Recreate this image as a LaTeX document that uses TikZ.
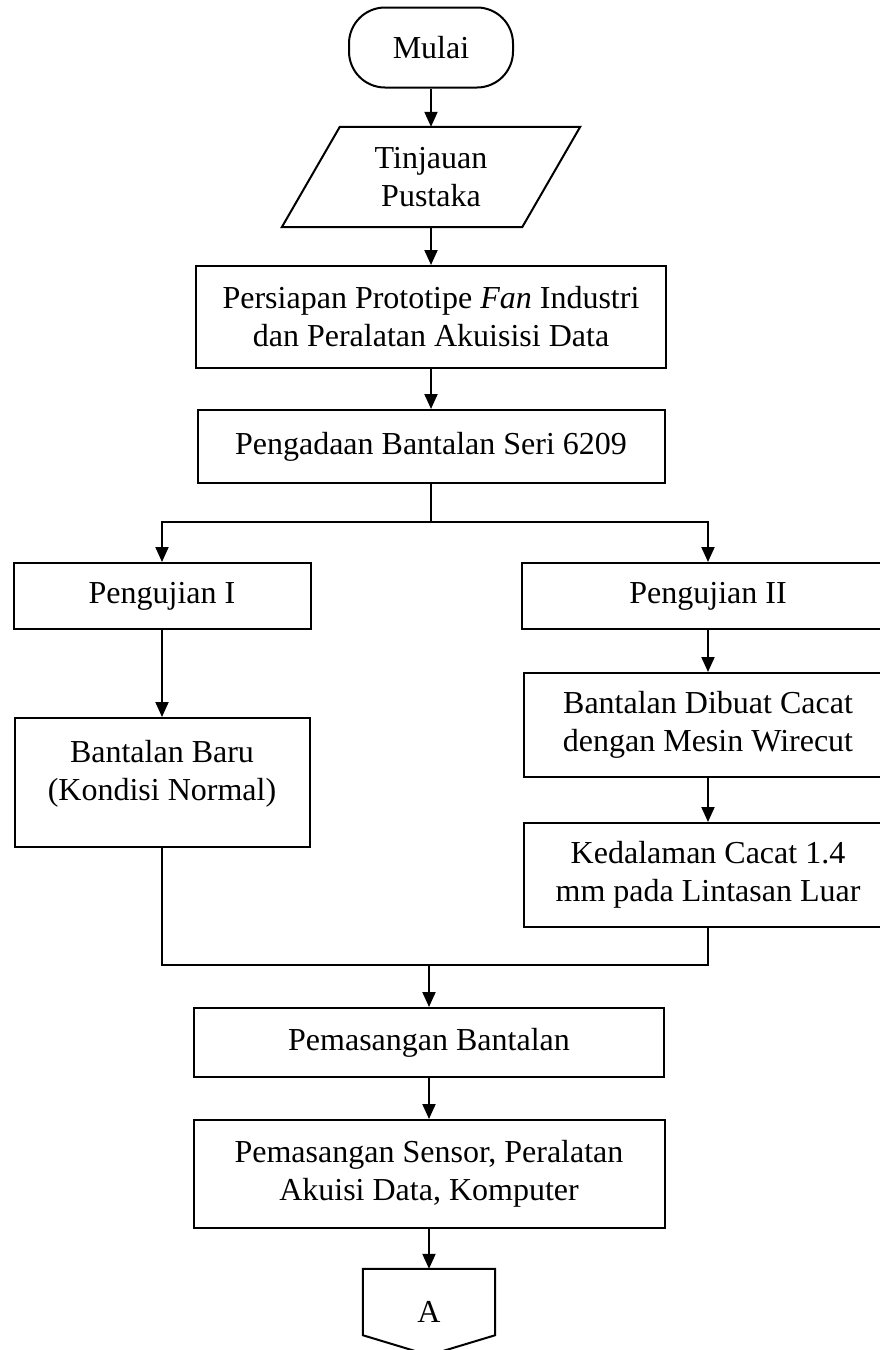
\documentclass[tikz,border=0pt]{standalone}
\usepackage{fontspec}
\setmainfont{Liberation Serif}
\usetikzlibrary{arrows.meta}

\begin{document}
\begin{tikzpicture}[
        x=1pt, y=-1pt,
        box/.style={
          draw,
          rectangle,
          line width=2pt,
          align=center,
          inner sep=0pt,
          font=\fontsize{32}{38}\selectfont
          },
        term/.style={
          box,
          rounded corners=36pt
          },
        plain/.style={
          draw=none,
          fill=none,
          align=center,
          inner sep=0pt,
          font=\fontsize{32}{38}\selectfont
          },
        flow/.style={
          line width=2pt
          },
        >={Triangle[length=15pt,width=13pt]}
        ]
        \useasboundingbox (0,0) rectangle (879,1350);
        % top part
        \node[term, minimum width=164pt, minimum height=80pt] (mulai) at (431,47.5) {Mulai};
        \node[plain, minimum width=240pt, minimum height=100pt] (tinjau) at (431,177) {Tinjauan\\Pustaka};
        \draw[flow] ([xshift=29pt]tinjau.north west) -- ([xshift=29pt]tinjau.north east)
          -- ([xshift=-29pt]tinjau.south east) -- ([xshift=-29pt]tinjau.south west) -- cycle;
        \node[box, minimum width=470pt, minimum height=102pt] (persiapan) at (431,317)
          {Persiapan Prototipe \textit{Fan} Industri\\dan Peralatan Akuisisi Data};
        \node[box, minimum width=467pt, minimum height=73pt] (pengadaan) at (431,446.5)
          {Pengadaan Bantalan Seri 6209};
        % two tests
        \node[box, minimum width=297pt, minimum height=66pt] (uji1) at (162,596) {Pengujian I};
        \node[box, minimum width=372pt, minimum height=66pt] (uji2) at (708,596) {Pengujian II};
        \node[box, minimum width=295pt, minimum height=129pt] (baru) at (162,782.5)
          {Bantalan Baru\\(Kondisi Normal)\\[-14pt]\mbox{}};
        \node[box, minimum width=368pt, minimum height=104pt] (cacat) at (708,725)
          {Bantalan Dibuat Cacat\\dengan Mesin Wirecut};
        \node[box, minimum width=368pt, minimum height=104pt] (dalam) at (708,875)
          {Kedalaman Cacat 1.4\\mm pada Lintasan Luar};
        % bottom part
        \node[box, minimum width=470pt, minimum height=69pt] (pasang) at (429,1042.5)
          {Pemasangan Bantalan};
        \node[box, minimum width=471pt, minimum height=108pt] (sensor) at (429,1174)
          {Pemasangan Sensor, Peralatan\\Akuisi Data, Komputer};
        \node[plain, minimum width=132pt, minimum height=86pt] (konA) at (429,1312) {A};
        \draw[flow] (konA.north west) -- (konA.north east) -- ([yshift=20pt]konA.south east)
          -- (konA.south) -- ([yshift=20pt]konA.south west) -- cycle;
        \coordinate (split) at (431,522);
        \coordinate (merge) at (429,965);
        % connectors
        \draw[flow,->] (mulai) -- (tinjau);
        \draw[flow,->] (tinjau) -- (persiapan);
        \draw[flow,->] (persiapan) -- (pengadaan);
        \draw[flow] (pengadaan.south) -- (split);
        \draw[flow,->] (split) -| (uji1.north);
        \draw[flow,->] (split) -| (uji2.north);
        \draw[flow,->] (uji1.south) -- (baru.north);
        \draw[flow,->] (uji2.south) -- (cacat.north);
        \draw[flow,->] (cacat.south) -- (dalam.north);
        \draw[flow] (baru.south) |- (merge);
        \draw[flow] (dalam.south) |- (merge);
        \draw[flow,->] (merge) -- (pasang.north);
        \draw[flow,->] (pasang) -- (sensor);
        \draw[flow,->] (sensor.south) -- (konA.north);
\end{tikzpicture}
\end{document}
